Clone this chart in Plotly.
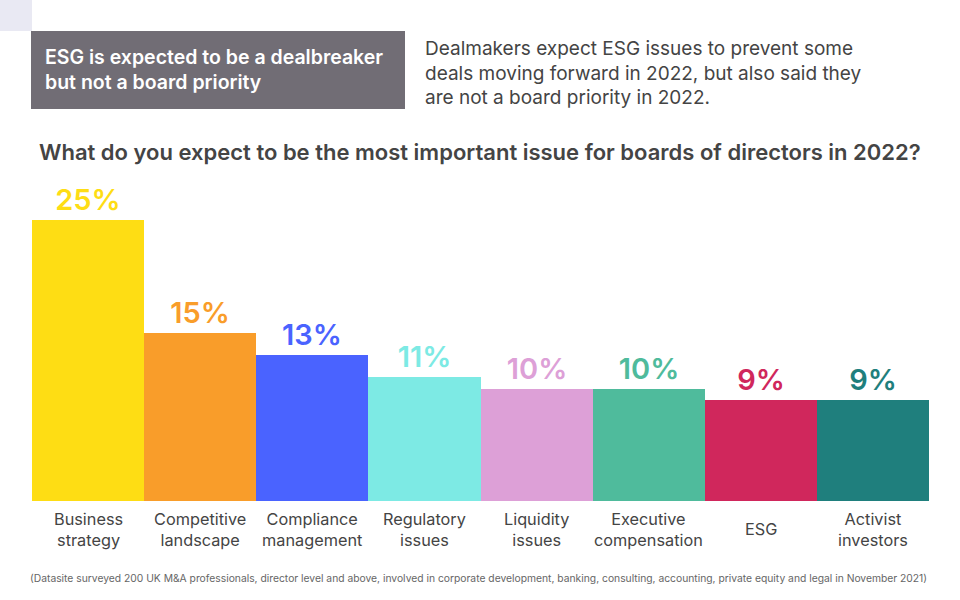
import plotly.graph_objects as go

# ----------------------------------------------------------------------------
# DATA
categories = ["Business<br>strategy", "Competitive<br>landscape", "Compliance<br>management",
              "Regulatory<br>issues", "Liquidity<br>issues", "Executive<br>compensation",
              "ESG", "Activist<br>investors"]
values = [25, 15, 13, 11, 10, 10, 9, 9]
colors = ["#FEDD14", "#F99D2A", "#4A63FF", "#7DEAE4", "#DDA0D7", "#4FBB9C", "#D0275C", "#1F7F7D"]

header = "ESG is expected to be a dealbreaker<br>but not a board priority"
intro = ("Dealmakers expect ESG issues to prevent some<br>deals moving forward in 2022, but also said they"
         "<br>are not a board priority in 2022.")
question = "What do you expect to be the most important issue for boards of directors in 2022?"
footnote = ("(Datasite surveyed 200 UK M&A professionals, director level and above, involved in corporate "
            "development, banking, consulting, accounting, private equity and legal in November 2021)")

# ----------------------------------------------------------------------------
# LAYOUT HELPERS (pixels -> paper coords)
W, H = 960, 600
ml, mr, mt, mb = 32, 31, 164, 99
pw, ph = W - ml - mr, H - mt - mb

def px(x):
    return (x - ml) / pw

def py(y):
    return (H - mb - y) / ph

font = "Inter, Roboto, sans-serif"
text_col = "#444444"

# ----------------------------------------------------------------------------
# GRAPH
fig = go.Figure()
fig.add_trace(go.Bar(x=categories, y=values, marker=dict(color=colors, line=dict(width=0)),
                     text=["%d%%" % v for v in values], textposition="outside", cliponaxis=False,
                     textfont=dict(color=colors, size=29, family=font, weight=600),
                     width=1.0, hoverinfo="skip"))

# category labels under the bars, vertically centred
for c in categories:
    fig.add_annotation(x=c, y=py(529), xref="x", yref="paper", text=c, showarrow=False,
                       xanchor="center", yanchor="middle", align="center",
                       font=dict(size=16.3, color=text_col, family=font))

# header box and corner square
fig.add_shape(type="rect", xref="paper", yref="paper", x0=px(31), x1=px(405), y0=py(109), y1=py(31),
              fillcolor="#716D75", line=dict(width=0), layer="below")
fig.add_shape(type="rect", xref="paper", yref="paper", x0=px(0), x1=px(32), y0=py(31), y1=py(0),
              fillcolor="#E9E9F3", line=dict(width=0), layer="below")

fig.add_annotation(x=px(43), y=py(70), xref="paper", yref="paper", text=header, showarrow=False,
                   xanchor="left", yanchor="middle", align="left",
                   font=dict(size=19.5, color="white", family=font, weight=600))
fig.add_annotation(x=px(423), y=py(73), xref="paper", yref="paper", text=intro, showarrow=False,
                   xanchor="left", yanchor="middle", align="left",
                   font=dict(size=19, color=text_col, family=font))
fig.add_annotation(x=px(37), y=py(152), xref="paper", yref="paper", text=question, showarrow=False,
                   xanchor="left", yanchor="middle", align="left",
                   font=dict(size=22, color=text_col, family=font, weight=600))
fig.add_annotation(x=px(28), y=py(578), xref="paper", yref="paper", text=footnote, showarrow=False,
                   xanchor="left", yanchor="middle", align="left",
                   font=dict(size=10.3, color="#666666", family=font))

fig.update_xaxes(showticklabels=False, showgrid=False, zeroline=False, showline=False)
fig.update_yaxes(range=[0, 30], visible=False, showgrid=False)
fig.update_layout(width=W, height=H, margin=dict(l=ml, r=mr, t=mt, b=mb),
                  plot_bgcolor="white", paper_bgcolor="white", showlegend=False,
                  bargap=0, font=dict(family=font))

# remove the page margin so the figure sits at the window corner
fig.write_html("out.html", config={"displayModeBar": False},
               post_script="document.body.style.margin='0';")
